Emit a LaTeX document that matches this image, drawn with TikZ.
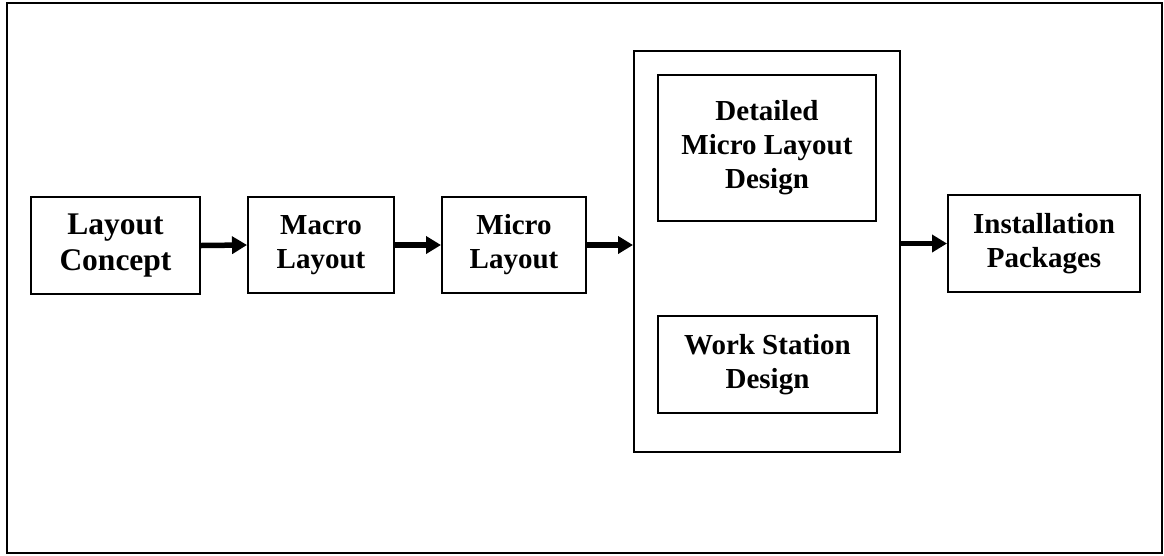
\documentclass[tikz,border=0pt]{standalone}
\usepackage{fontspec}
\setmainfont{Liberation Serif}
\usetikzlibrary{arrows.meta}
\begin{document}
\begin{tikzpicture}[x=1pt,y=-1pt,
  box/.style={draw, line width=2pt, rectangle, align=center, inner sep=0pt,
    font=\fontsize{29}{34}\selectfont\bfseries},
  flow/.style={line width=5.5pt, -{Triangle[length=15pt,width=17pt]}}]
\useasboundingbox (0,0) rectangle (1164,555);
\draw[line width=2.4pt] (7,3) rectangle (1162,553);
\node[box, minimum width=169pt, minimum height=97pt, font=\fontsize{31.5}{36}\selectfont\bfseries] (lc) at (115.5,245.5) {Layout\\Concept};
\node[box, minimum width=146pt, minimum height=96pt] (ml) at (321,245) {Macro\\Layout};
\node[box, minimum width=144pt, minimum height=96pt] (mi) at (514,245) {Micro\\Layout};
\node[box, minimum width=266pt, minimum height=401pt] (cont) at (767,251.5) {};
\node[box, minimum width=218pt, minimum height=146pt] (dm) at (767,147.5) {Detailed\\Micro Layout\\Design};
\node[box, minimum width=219pt, minimum height=97pt] (ws) at (767.5,364.5) {Work Station\\Design};
\node[box, minimum width=192pt, minimum height=97pt] (ip) at (1044,243.5) {Installation\\Packages};
\draw[flow] (lc.east) -- (ml.west);
\draw[flow] (ml.east) -- (mi.west);
\draw[flow] (mi.east) -- (mi.east -| cont.west);
\draw[flow] (cont.east |- ip.west) -- (ip.west);
\end{tikzpicture}
\end{document}
